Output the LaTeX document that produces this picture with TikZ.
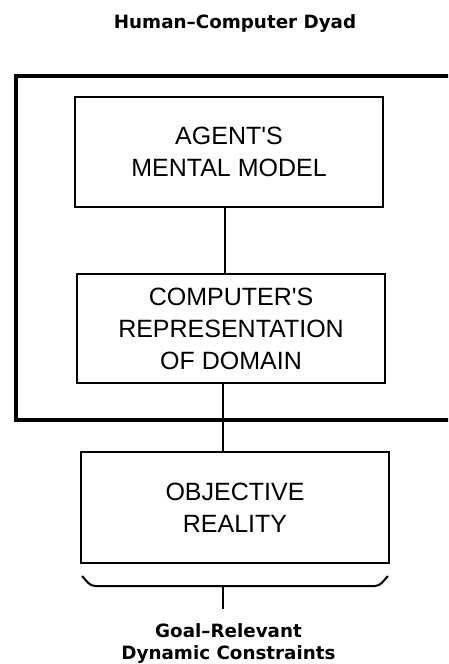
\documentclass[tikz,border=0pt]{standalone}
\usepackage{fontspec}
\setmainfont{Liberation Sans}
\newfontfamily\labelfont{DejaVu Sans}
\usetikzlibrary{positioning,calc}

\begin{document}
\begin{tikzpicture}[
    x=1pt, y=-1pt,
    every node/.style={align=center, inner sep=0pt},
    frame/.style={draw, line width=4pt, minimum width=455, minimum height=343.5},
    box/.style={draw, line width=2pt, minimum width=308, minimum height=110, font=\fontsize{25}{32}\selectfont},
    caption/.style={font=\labelfont\bfseries\fontsize{18.3}{22}\selectfont},
    link/.style={line width=2pt}
  ]
  \useasboundingbox (0,0) rectangle (448,664);
  \clip (0,0) rectangle (448,664);

  % title
  \node[caption, anchor=base] (title) at (235,28) {Human–Computer Dyad};

  % dyad frame (runs off the right edge)
  \node[frame] (dyad) at (243,247.75) {};

  % the three boxes
  \node[box] (agent) at (229,152) {AGENT\textquotesingle S\\MENTAL MODEL};
  \node[box, minimum height=109] (computer) at (231,328.5) {COMPUTER\textquotesingle S\\REPRESENTATION\\OF DOMAIN};
  \node[box, minimum height=111] (reality) at (235,507.5) {OBJECTIVE\\REALITY};

  % links
  \draw[link] ([xshift=-4]agent.south) -- ([xshift=-6]computer.north);
  \draw[link] ([xshift=-8]computer.south) -- ([xshift=-12]reality.north);

  % brace under reality
  \coordinate (braceL) at (82,576);
  \coordinate (braceR) at (388,576);
  \coordinate (braceM) at (223,586);
  \draw[link, rounded corners=4pt] (braceL) -- (91,586) -- (379,586) -- (braceR);
  \draw[link] (braceM) -- ++(0,23) coordinate (tick);

  % constraints label
  \node[caption, anchor=north] (goal) at (228.5,623) {Goal–Relevant\\Dynamic Constraints};
\end{tikzpicture}
\end{document}
